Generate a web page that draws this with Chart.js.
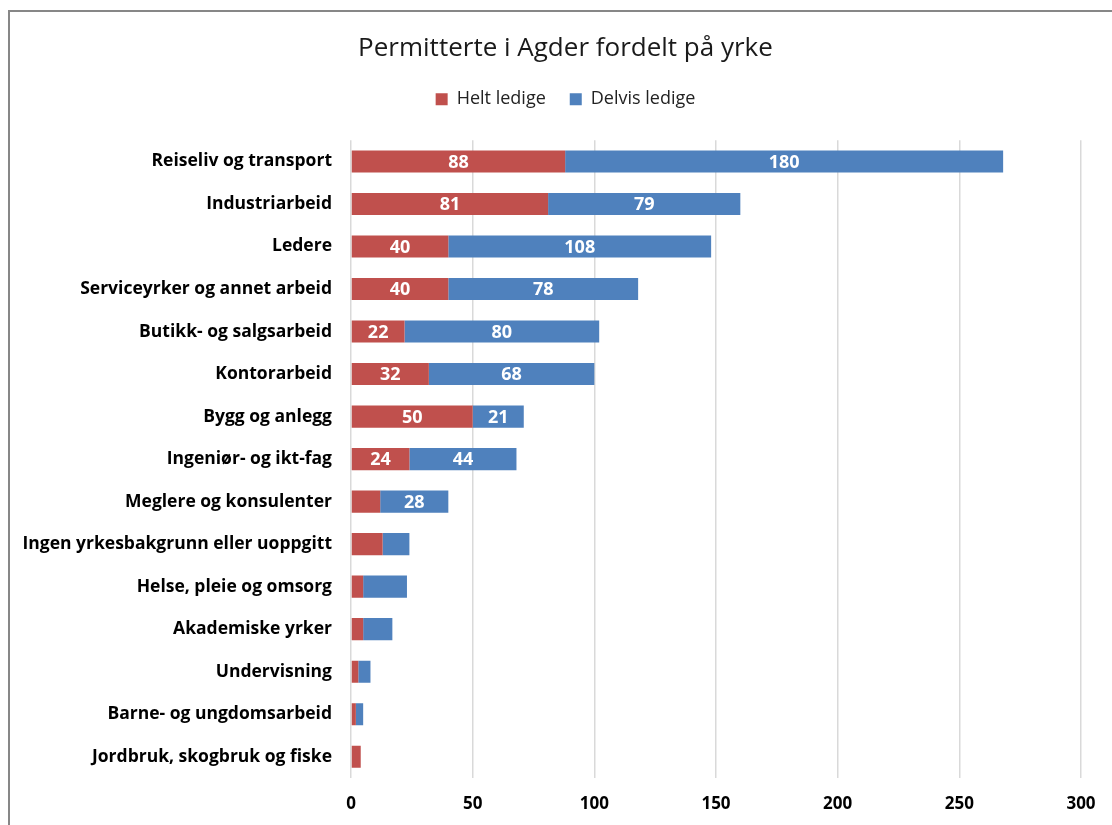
<!DOCTYPE html>
<html>
<head>
<meta charset="utf-8">
<script src="https://cdn.jsdelivr.net/npm/chart.js@4/dist/chart.umd.min.js"></script>
<style>
  html, body { margin: 0; padding: 0; background: #fff; overflow: hidden; width: 1112px; height: 825px; }
  #wrap { position: absolute; left: 0; top: 0; width: 1131px; height: 825px; }
  #frame { position: absolute; left: 8px; top: 10px; width: 1200px; height: 900px;
           border-left: 2px solid #878787; border-top: 2px solid #878787; pointer-events: none; }
</style>
</head>
<body>
<div id="wrap"><canvas id="c" width="1131" height="825"></canvas></div>
<div id="frame"></div>
<script>
const categories = [
  "Reiseliv og transport",
  "Industriarbeid",
  "Ledere",
  "Serviceyrker og annet arbeid",
  "Butikk- og salgsarbeid",
  "Kontorarbeid",
  "Bygg og anlegg",
  "Ingeniør- og ikt-fag",
  "Meglere og konsulenter",
  "Ingen yrkesbakgrunn eller uoppgitt",
  "Helse, pleie og omsorg",
  "Akademiske yrker",
  "Undervisning",
  "Barne- og ungdomsarbeid",
  "Jordbruk, skogbruk og fiske"
];
const heltLedige   = [88, 81, 40, 40, 22, 32, 50, 24, 12, 13, 5, 5, 3, 2, 4];
const delvisLedige = [180, 79, 108, 78, 80, 68, 21, 44, 28, 11, 18, 12, 5, 3, 0];
const seriesNames = ["Helt ledige", "Delvis ledige"];
const LABEL_MIN = 20;

const FONT = "'Open Sans', sans-serif";

const legendSpacer = {
  id: 'legendSpacer',
  beforeInit(chart) {
    const origFit = chart.legend.fit;
    chart.legend.fit = function () {
      origFit.bind(chart.legend)();
      this.height += 22;
    };
  },
  afterLayout(chart) {
    // centre title and legend on the full canvas width
    [chart.titleBlock, chart.legend].forEach(b => {
      if (b) { b.left = 0; b.right = chart.width; }
    });
  }
};

const segLabels = {
  id: 'segLabels',
  afterDatasetsDraw(chart) {
    const ctx = chart.ctx;
    ctx.save();
    ctx.fillStyle = '#ffffff';
    ctx.font = "bold 18px " + FONT;
    ctx.textAlign = 'center';
    ctx.textBaseline = 'middle';
    chart.data.datasets.forEach((ds, di) => {
      const meta = chart.getDatasetMeta(di);
      meta.data.forEach((el, i) => {
        const v = ds.data[i];
        if (v >= LABEL_MIN) {
          const cx = (el.x + el.base) / 2;
          ctx.fillText(String(v), cx, el.y + 1);
        }
      });
    });
    ctx.restore();
  }
};

new Chart(document.getElementById('c'), {
  type: 'bar',
  data: {
    labels: categories,
    datasets: [
      { label: seriesNames[0], data: heltLedige, backgroundColor: '#C0504D', borderWidth: 0 },
      { label: seriesNames[1], data: delvisLedige, backgroundColor: '#4F81BD', borderWidth: 0 }
    ]
  },
  options: {
    indexAxis: 'y',
    responsive: false,
    animation: false,
    devicePixelRatio: 1,
    layout: { padding: { left: 0, right: 50, top: 0, bottom: 0 } },
    datasets: { bar: { barPercentage: 1, categoryPercentage: 0.52 } },
    plugins: {
      title: {
        display: true,
        text: 'Permitterte i Agder fordelt på yrke',
        color: '#1a1a1a',
        font: { family: FONT, size: 26, weight: 'normal' },
        padding: { top: 33, bottom: 2 }
      },
      legend: {
        display: true,
        position: 'top',
        labels: {
          color: '#222',
          font: { family: FONT, size: 18 },
          boxWidth: 12,
          boxHeight: 12,
          padding: 24
        }
      },
      tooltip: { enabled: false }
    },
    scales: {
      x: {
        stacked: true,
        min: 0,
        max: 300,
        ticks: { stepSize: 50, color: '#000', font: { family: FONT, size: 17, weight: 'bold' }, padding: 16 },
        grid: { color: '#d9d9d9', lineWidth: 1.5, drawTicks: false },
        border: { display: false },
        afterFit(scale) { scale.height = 47; }
      },
      y: {
        stacked: true,
        ticks: { color: '#000', font: { family: FONT, size: 17.5, weight: 'bold' }, padding: 19, autoSkip: false },
        grid: { display: false, drawTicks: false },
        border: { display: false },
        afterFit(scale) { scale.width = 351; }
      }
    }
  },
  plugins: [legendSpacer, segLabels]
});
</script>
</body>
</html>
